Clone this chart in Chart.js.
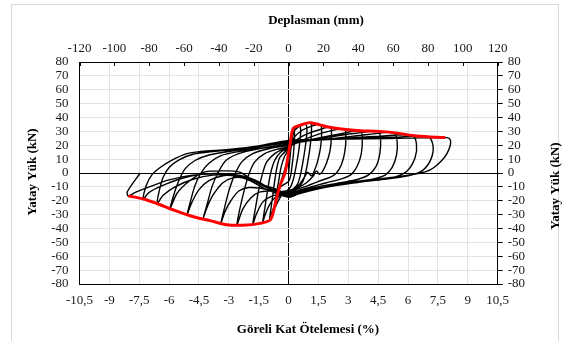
<!DOCTYPE html>
<html>
<head>
<meta charset="utf-8">
<script src="https://cdn.jsdelivr.net/npm/chart.js@4.4.1/dist/chart.umd.min.js"></script>
<style>
  html, body { margin: 0; padding: 0; background: #fff; }
  canvas { display: block; }
</style>
</head>
<body>
<canvas id="c" width="567" height="341"></canvas>
<script>
// Axis tick values
const driftTicks = [-10.5, -9, -7.5, -6, -4.5, -3, -1.5, 0, 1.5, 3, 4.5, 6, 7.5, 9, 10.5];
const dispTicks = [-120, -100, -80, -60, -40, -20, 0, 20, 40, 60, 80, 100, 120];
const loadTicks = [-80, -70, -60, -50, -40, -30, -20, -10, 0, 10, 20, 30, 40, 50, 60, 70, 80];

// Load–drift history, cycle by cycle: [drift %, load kN]
const cycle01 = [[0,0],[0.05,8],[0.12,18],[0.2,26],[0.27,30],[0.3,27],[0.25,15],[0.18,6],[0.1,-2],[0,-6],[-0.2,-8],[-0.4,-10],[-0.45,-11],[-0.38,-6],[-0.25,0],[-0.12,6],[0,12]];
const cycle02 = [[0.1,22],[0.25,30],[0.45,33],[0.58,33.5],[0.6,28],[0.5,15],[0.38,5],[0.25,-4],[0.1,-10],[-0.1,-13],[-0.35,-16],[-0.55,-21],[-0.7,-25],[-0.62,-16],[-0.5,-6],[-0.38,4],[-0.2,12],[0,17]];
const cycle03 = [[0.15,26],[0.35,32],[0.6,34.3],[0.87,35],[0.92,30],[0.85,20],[0.72,8],[0.6,-1],[0.45,-8],[0.2,-12],[0,-14],[-0.3,-15],[-0.55,-18],[-0.8,-27],[-0.95,-33.5],[-0.85,-22],[-0.72,-8],[-0.6,3],[-0.45,11],[-0.2,15],[0,18]];
const cycle04 = [[0.2,28],[0.5,33.5],[0.8,35.5],[1.1,36.2],[1.15,30],[1.08,19],[0.95,7],[0.85,0],[0.72,-6],[0.45,-11],[0.1,-14],[-0.3,-15.5],[-0.7,-18],[-1.0,-24],[-1.2,-31],[-1.3,-35.8],[-1.18,-24],[-1.05,-12],[-0.9,0],[-0.7,9],[-0.4,15],[0,18.2]];
const cycle05 = [[0.3,26],[0.7,31],[1.2,34],[1.6,34.8],[1.66,29],[1.6,18],[1.45,8],[1.3,2],[1.15,-2],[0.95,0.5],[0.8,-3],[0.5,-9],[0.1,-13],[-0.4,-15],[-0.9,-17],[-1.3,-21],[-1.6,-29],[-1.8,-37],[-1.66,-25],[-1.5,-12],[-1.32,-1],[-1.1,8],[-0.7,14],[-0.3,17],[0,18.5]];
const cycle06 = [[0.4,24],[0.9,28],[1.5,31],[2.1,33],[2.15,27],[2.08,16],[1.9,7],[1.7,1],[1.55,-1],[1.4,1.5],[1.25,-2],[0.9,-7],[0.4,-11],[0,-12.5],[-0.5,-13.5],[-1.0,-13],[-1.5,-14],[-1.9,-18],[-2.3,-26],[-2.6,-37.6],[-2.42,-24],[-2.22,-12],[-2.0,-1],[-1.7,8],[-1.2,14],[-0.6,17],[0,19]];
const cycle07 = [[0.6,23],[1.3,27],[2.0,30],[2.8,31.6],[2.88,26],[2.82,15],[2.65,6],[2.4,0],[2.1,-3],[1.5,-6],[0.8,-10],[0,-13],[-0.7,-13],[-1.4,-11],[-2.0,-10.5],[-2.5,-13],[-2.9,-20],[-3.2,-28],[-3.4,-36.3],[-3.2,-24],[-2.98,-12],[-2.7,-1],[-2.35,8],[-1.8,14],[-1.0,17.5],[0,20]];
const cycle08 = [[0.8,23],[1.7,25.8],[2.7,28.5],[3.6,30.5],[3.7,25],[3.65,14],[3.45,5],[3.15,-1],[2.7,-4],[1.9,-7],[1.0,-10.5],[0,-14],[-0.8,-12.5],[-1.6,-7],[-2.3,-3.5],[-2.8,-3.5],[-3.3,-7],[-3.8,-16],[-4.1,-25],[-4.3,-33.1],[-4.08,-22],[-3.85,-10],[-3.55,0],[-3.15,9],[-2.5,14],[-1.5,17.5],[0,20.5]];
const cycle09 = [[1.0,23.5],[2.2,26.3],[3.4,28.6],[4.5,30],[4.62,24],[4.58,14],[4.4,5],[4.05,-1],[3.5,-4.5],[2.6,-7],[1.5,-9.8],[0.6,-12.5],[0,-14.5],[-0.8,-12],[-1.7,-5],[-2.5,-1.5],[-3.3,-2],[-4.0,-5.5],[-4.5,-12],[-4.85,-21],[-5.1,-30],[-4.92,-20],[-4.7,-9],[-4.4,0],[-4.0,7],[-3.4,12.5],[-2.5,15.5],[-1.3,18],[0,21]];
const cycle10 = [[1.2,23.5],[2.6,25.5],[4.0,27.7],[5.3,29],[5.45,23],[5.42,13],[5.2,4],[4.85,-1.5],[4.2,-4.5],[3.2,-6.5],[2.0,-9.5],[0.9,-12.5],[0,-15],[-0.76,-11],[-1.6,-7],[-2.43,0.5],[-3.3,1.5],[-4.28,0.5],[-5.0,-6],[-5.6,-14.6],[-5.95,-25.8],[-5.75,-15],[-5.5,-5],[-5.2,3],[-4.7,9],[-4.0,13],[-3,15.5],[-1.6,18.5],[0,22]];
const cycle11 = [[1.5,23.8],[3.0,25.2],[4.6,26.5],[6.2,27.2],[6.42,21],[6.35,11],[5.95,1.5],[5.3,-3],[4.3,-5],[3.0,-7.5],[1.8,-10],[0.8,-13],[0,-15.5],[-0.8,-12],[-1.8,-5.5],[-2.8,-1.5],[-3.8,-1.5],[-4.8,-4.5],[-5.7,-10],[-6.3,-16],[-6.6,-22],[-6.48,-12],[-6.3,-3],[-6.0,4],[-5.5,9.5],[-4.8,13.5],[-3.8,15.5],[-2.2,17.5],[0,22.5]];
const cycle12 = [[1.7,24],[3.5,25],[5.3,25.8],[7.0,26.2],[7.25,20],[7.15,10],[6.7,1.5],[6.0,-2],[4.8,-4.5],[3.4,-7],[2.0,-10],[0.9,-13.5],[0,-16.5],[-0.9,-12],[-2.0,-4],[-3.2,-0.5],[-4.4,-1],[-5.5,-4.5],[-6.4,-9.5],[-7.0,-14],[-7.3,-18.7],[-7.15,-9],[-6.85,-1],[-6.45,4],[-5.9,9],[-5.1,14],[-4.4,15.5],[-3.0,17],[-1.5,19.5],[0,23.5]];
const cycle13 = [[2.0,24.2],[4.0,24.7],[6.0,25.1],[7.95,25.5],[8.12,24],[8.12,20],[7.95,14],[7.69,9],[7.3,4],[6.9,1],[6.1,-1.4],[4.5,-4.5],[3.0,-7.5],[1.5,-11],[0.5,-15],[0,-17.5],[-1.0,-12.5],[-2.2,-4],[-3.5,-1],[-4.8,-1.5],[-6.0,-5],[-7.0,-10],[-7.7,-14],[-8.05,-16.6],[-8.1,-13.5],[-7.45,0]];

// Backbone (envelope) curve: [drift %, load kN]
const envelope = [[-8.04,-16.6],[-7.3,-18.7],[-6.62,-22],[-5.8,-26.5],[-4.78,-31.5],[-3.9,-34.5],[-3.1,-37.3],[-2.3,-37.6],[-1.43,-36.3],[-0.93,-33.9],[-0.75,-27],[-0.6,-18],[-0.43,-9],[-0.18,0],[0.08,21.4],[0.24,32.2],[0.6,34.5],[1.08,36.3],[1.92,33.4],[3.0,31.2],[3.59,30.5],[4.5,30],[5.26,29.1],[6.44,26.7],[7.86,25.5]];

const toPoints = arr => arr.map(([x, y]) => ({ x, y }));
const history = [].concat(cycle01, cycle02, cycle03, cycle04, cycle05, cycle06, cycle07,
                          cycle08, cycle09, cycle10, cycle11, cycle12, cycle13);

const SERIF = '"Liberation Serif", "Times New Roman", serif';
const tickFont = { family: SERIF, size: 13 };
const gridColor = ctx => (ctx.tick && ctx.tick.value === 0) ? '#000000' : '#e3e3e3';

const frameAndTitles = {
  id: 'frameAndTitles',
  beforeDraw(chart) {
    const { ctx } = chart;
    ctx.save();
    ctx.fillStyle = '#ffffff';
    ctx.fillRect(0, 0, chart.width, chart.height);
    ctx.strokeStyle = '#d9d9d9';
    ctx.lineWidth = 1;
    ctx.strokeRect(11.5, 4.5, 547, 345);
    ctx.restore();
  },
  afterDraw(chart) {
    const { ctx, chartArea, scales } = chart;
    ctx.save();
    // inward tick marks on the displacement axis
    ctx.strokeStyle = '#000';
    ctx.lineWidth = 1;
    scales.x2.ticks.forEach(t => {
      const px = Math.round(scales.x2.getPixelForValue(t.value)) + 0.5;
      ctx.beginPath();
      ctx.moveTo(px, chartArea.top);
      ctx.lineTo(px, chartArea.top + 4);
      ctx.stroke();
    });
    // axis titles
    ctx.fillStyle = '#000';
    ctx.font = 'bold 13px ' + SERIF;
    ctx.textAlign = 'center';
    ctx.textBaseline = 'middle';
    ctx.fillText('Deplasman (mm)', 316, 21);
    ctx.fillText('Göreli Kat Ötelemesi (%)', 308, 330);
    ctx.save();
    ctx.translate(33, 172);
    ctx.rotate(-Math.PI / 2);
    ctx.fillText('Yatay Yük (kN)', 0, 0);
    ctx.restore();
    ctx.save();
    ctx.translate(556, 186);
    ctx.rotate(-Math.PI / 2);
    ctx.fillText('Yatay Yük (kN)', 0, 0);
    ctx.restore();
    ctx.restore();
  }
};

new Chart(document.getElementById('c'), {
  type: 'scatter',
  data: {
    datasets: [
      {
        data: toPoints(envelope),
        showLine: true,
        borderColor: '#ff0000',
        borderWidth: 3,
        pointRadius: 0,
        tension: 0.3,
        order: 0
      },
      {
        data: toPoints(history),
        showLine: true,
        borderColor: '#000000',
        borderWidth: 1.4,
        pointRadius: 0,
        tension: 0.3,
        order: 1
      }
    ]
  },
  options: {
    responsive: false,
    animation: false,
    devicePixelRatio: 1,
    layout: { padding: 0 },
    plugins: { legend: { display: false }, tooltip: { enabled: false } },
    scales: {
      x: {
        type: 'linear', position: 'bottom', min: -10.5, max: 10.5,
        afterBuildTicks: s => { s.ticks = driftTicks.map(v => ({ value: v })); },
        afterFit: s => { s.height = 57; },
        ticks: { font: tickFont, color: '#1a1a1a', padding: 9, autoSkip: false, maxRotation: 0,
                 callback: v => String(v).replace('.', ',') },
        grid: { color: gridColor, drawTicks: false },
        border: { display: true, color: '#000', width: 1 }
      },
      x2: {
        type: 'linear', position: 'top', min: -120, max: 120,
        afterBuildTicks: s => { s.ticks = dispTicks.map(v => ({ value: v })); },
        afterFit: s => { s.height = 62; },
        ticks: { font: tickFont, color: '#1a1a1a', padding: 6, autoSkip: false, maxRotation: 0 },
        grid: { drawOnChartArea: false, drawTicks: false },
        border: { display: true, color: '#000', width: 1 }
      },
      y: {
        type: 'linear', position: 'left', min: -80, max: 80,
        afterBuildTicks: s => { s.ticks = loadTicks.map(v => ({ value: v })); },
        afterFit: s => { s.width = 79.5; },
        ticks: { font: tickFont, color: '#1a1a1a', padding: 11, autoSkip: false },
        grid: { color: gridColor, drawTicks: false },
        border: { display: true, color: '#000', width: 1 }
      },
      y2: {
        type: 'linear', position: 'right', min: -80, max: 80,
        afterBuildTicks: s => { s.ticks = loadTicks.map(v => ({ value: v })); },
        afterFit: s => { s.width = 69.3; },
        ticks: { font: tickFont, color: '#1a1a1a', padding: 5, autoSkip: false },
        grid: { drawOnChartArea: false, drawTicks: true, tickLength: 5, tickColor: '#000' },
        border: { display: true, color: '#000', width: 1 }
      }
    }
  },
  plugins: [frameAndTitles]
});
</script>
</body>
</html>
